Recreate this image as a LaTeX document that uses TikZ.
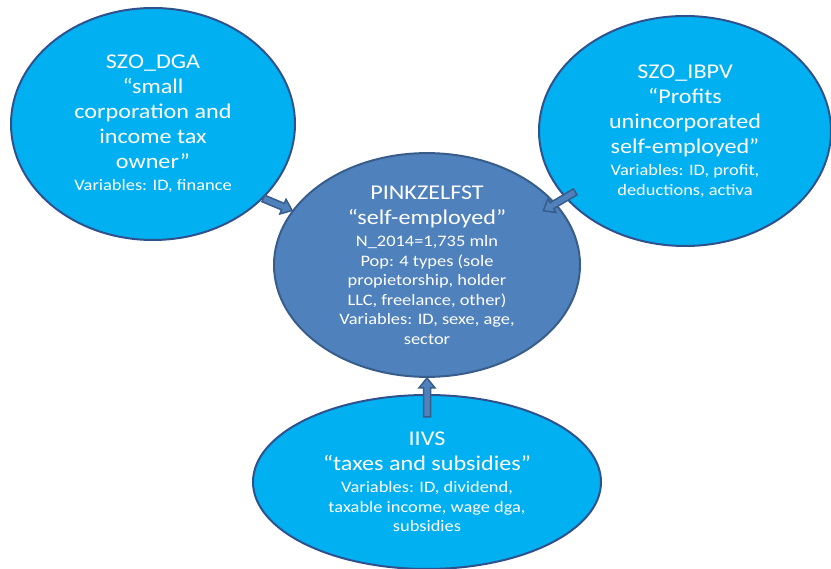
\documentclass[tikz,border=0pt]{standalone}
\usepackage{fontspec}
\setmainfont{Carlito}[FakeStretch=1.15]
\usetikzlibrary{calc, shapes.geometric}

\definecolor{cyanfill}{HTML}{00B0F0}
\definecolor{cyanline}{HTML}{2F528F}
\definecolor{bluefill}{HTML}{4F81BD}
\definecolor{blueline}{HTML}{385D8A}

\newcommand{\bigtxt}{\fontsize{21}{25}\selectfont}
\newcommand{\smalltxt}{\fontsize{16}{19.5}\selectfont}
\newcommand{\blockarrow}[2]{%
  \draw[blockarrow] let \p1 = ($(#2)-(#1)$), \n1 = {atan2(\y1,\x1)} in
    ($(#1)+({\n1+90}:3.5pt)$) -- ($(#2)+({\n1+180}:10pt)+({\n1+90}:3.5pt)$)
    -- ($(#2)+({\n1+180}:10pt)+({\n1+90}:8pt)$) -- (#2)
    -- ($(#2)+({\n1+180}:10pt)+({\n1-90}:8pt)$)
    -- ($(#2)+({\n1+180}:10pt)+({\n1-90}:3.5pt)$)
    -- ($(#1)+({\n1-90}:3.5pt)$) -- cycle;}

\begin{document}
\begin{tikzpicture}[x=1pt, y=-1pt,
  every node/.style = {shape=ellipse, line width=2pt, inner sep=0pt, align=center, text=white, font=\bigtxt},
  satellite/.style = {fill=cyanfill, draw=cyanline},
  core/.style = {fill=bluefill, draw=blueline},
  blockarrow/.style = {fill=bluefill, draw=blueline, line width=1.5pt, line join=miter}]

  \useasboundingbox (0,0) rectangle (831,569);

  \node[satellite, minimum width=284pt, minimum height=232pt] (dga) at (153,124)
    {SZO\_DGA\\“small\\corporation and\\income tax\\owner”\\[-3pt]{\smalltxt Variables: ID, finance}};

  \node[satellite, minimum width=292pt, minimum height=230pt] (ibpv) at (685,131)
    {SZO\_IBPV\\“Profits\\unincorporated\\self-employed”\\[-3pt]{\smalltxt Variables: ID, profit,}\\[-5.5pt]{\smalltxt deductions, activa}};

  \node[core, minimum width=306pt, minimum height=220pt] (self) at (427,265)
    {PINKZELFST\\“self-employed”\\[-3pt]{\smalltxt N\_2014=1,735 mln}\\[-5.5pt]{\smalltxt Pop: 4 types (sole}\\[-5.5pt]{\smalltxt propietorship, holder}\\[-5.5pt]{\smalltxt LLC, freelance, other)}\\[-5.5pt]{\smalltxt Variables: ID, sexe, age,}\\[-5.5pt]{\smalltxt sector}};

  \node[satellite, minimum width=348pt, minimum height=174pt] (iivs) at (427,482)
    {IIVS\\“taxes and subsidies”\\[-3pt]{\smalltxt Variables: ID, dividend,}\\[-5.5pt]{\smalltxt taxable income, wage dga,}\\[-5.5pt]{\smalltxt subsidies}};

  \coordinate (dga out) at (dga.-34);
  \coordinate (self w) at (self.158);
  \coordinate (ibpv out) at ($(ibpv.209)!12pt!(ibpv)$);
  \coordinate (self e) at ($(self.25)!15pt!(self)$);
  \coordinate (iivs out) at ($(iivs.north)!23pt!(iivs)$);
  \coordinate (self s) at (self.south);

  \blockarrow{dga out}{self w}
  \blockarrow{ibpv out}{self e}
  \blockarrow{iivs out}{self s}
\end{tikzpicture}
\end{document}
